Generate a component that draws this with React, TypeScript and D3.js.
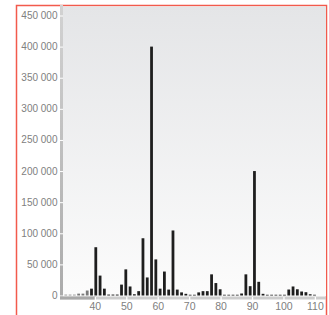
import React from 'react';
import * as d3 from 'd3';

const width = 329;
const height = 315;

// bar heights, left to right
const values = [
  1500, 1500, 1500, 3000, 3000, 8000, 11000, 77600, 32000, 11000,
  1500, 1500, 1500, 17500, 42000, 14500, 2000, 7000, 92000, 29000,
  400000, 58000, 11000, 38500, 9500, 104500, 9500, 5000, 2700, 1200,
  1200, 5000, 7000, 7000, 34000, 20000, 10000, 1200, 1200, 1200,
  1200, 3200, 34000, 15000, 200000, 22000, 2700, 1200, 1200, 1200,
  1200, 1200, 9600, 14500, 10000, 6400, 5300, 2000, 1200,
];
const xTicks = [40, 50, 60, 70, 80, 90, 100, 110];
const yTicks = [0, 50000, 100000, 150000, 200000, 250000, 300000, 350000, 400000, 450000];

const mutedCount = 6;

const fmt = d3.formatLocale({ decimal: '.', thousands: ' ', grouping: [3], currency: ['', ''] }).format(',d');

export default function App() {
  const left = 63, right = 326, top = 6.5, bottom = 296;

  const x = d3.scaleLinear().domain([29.7, 113.38]).range([left, right]);
  const y = d3.scaleLinear().domain([0, 450000]).range([295.5, 15.5]);

  const band = d3.scaleBand<number>()
    .domain(values.map((_, i) => i))
    .range([x(29.9), x(110.4)])
    .paddingInner(0.35)
    .paddingOuter(0.175);

  return (
    <svg width={width} height={height} style={{ position: 'absolute', left: 0, top: 0 }}
      fontFamily="'Liberation Sans', Arial, sans-serif">
      <defs>
        <linearGradient id="bg" x1="0" y1="0" x2="0" y2="1">
          <stop offset="0" stopColor="#e4e5e7" />
          <stop offset="1" stopColor="#fcfcfc" />
        </linearGradient>
        <linearGradient id="yax" x1="0" y1="0" x2="0" y2="1">
          <stop offset="0" stopColor="#d2d2d2" />
          <stop offset="1" stopColor="#ababab" />
        </linearGradient>
      </defs>
      <rect x={16.5} y={5.5} width={310} height={330} fill="#fff" stroke="#f25a4c" strokeWidth={1.5} />
      <rect x={left} y={top} width={right - left} height={bottom - top} fill="url(#bg)" />

      {/* y axis */}
      <rect x={60} y={5} width={3} height={292} fill="url(#yax)" />
      {yTicks.map((t) => (
        <g key={t}>
          <line x1={60} x2={63} y1={y(t) + 0.5} y2={y(t) + 0.5} stroke="#fff" strokeWidth={1} />
          <text x={57.5} y={y(t)} dy="0.35em" textAnchor="end" fontSize={10} fill="#808080">{fmt(t)}</text>
        </g>
      ))}

      {/* x axis */}
      <rect x={60} y={296.5} width={right - 60} height={3} fill="#cdcdcd" />
      <rect x={60} y={296.5} width={x(40) - 60} height={3} fill="#a9a9a9" />
      {xTicks.map((t) => (
        <g key={t}>
          <line x1={x(t)} x2={x(t)} y1={297} y2={300} stroke="#fff" strokeWidth={1.3} />
          <text x={x(t)} y={310} textAnchor="middle" fontSize={10.5} fill="#808080">{t}</text>
        </g>
      ))}

      {values.map((v, i) => (
        <rect key={i} x={band(i)} width={band.bandwidth()} y={y(v)} height={y(0) - y(v)}
          fill={i < mutedCount ? (i < 3 ? '#9a9a9a' : '#7a7a7a') : '#1e1e1e'} />
      ))}
    </svg>
  );
}
